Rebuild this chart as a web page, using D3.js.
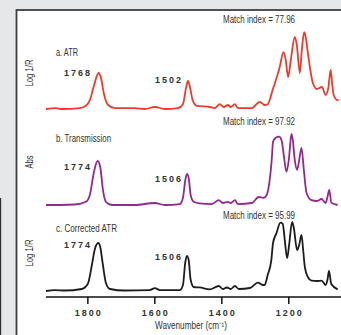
<!DOCTYPE html>
<html><head><meta charset="utf-8">
<script src="https://cdn.jsdelivr.net/npm/d3@7"></script>
<style>
html,body{margin:0;padding:0;background:#e6e7e8;}
svg{display:block;}
text{font-family:"Liberation Sans Narrow","Arial Narrow","Liberation Sans",sans-serif;fill:#333;}
</style></head>
<body><svg id="c" width="341" height="335"></svg>
<script>
// ---- data (wavenumber cm-1, relative intensity) ----
const wnA = [1925,1895,1878,1824,1806,1794,1782,1768,1761,1752,1740,1719,1660,1630,1600,1570,1531,1516,1507,1501,1496,1487,1475,1436,1421,1406,1394,1382,1373,1361,1352,1310,1287,1272,1263,1248,1227,1216,1209,1202,1194,1182,1176,1167,1161,1154,1149,1143,1128,1116,1101,1090,1082,1075,1070,1066,1054,1051];
const valA = [0,0.012,0,0.012,0.04,0.11,0.29,0.45,0.39,0.19,0.05,0.012,0.012,0,0.025,0,0.012,0.06,0.26,0.35,0.29,0.11,0.04,0.025,0.012,0.06,0.025,0.05,0.025,0.06,0.012,0.012,0.09,0.05,0.06,0.24,0.525,0.71,0.61,0.4,0.61,0.9,0.8,0.45,0.74,0.96,0.89,0.7,0.325,0.25,0.275,0.175,0.26,0.49,0.3,0.175,0.11,0.11];

const wnB = [1925,1884,1839,1806,1794,1782,1771,1763,1755,1746,1728,1660,1600,1570,1525,1516,1509,1504,1499,1493,1484,1466,1430,1409,1397,1382,1373,1361,1352,1310,1290,1275,1266,1257,1251,1247,1239,1229,1221,1215,1207,1200,1192,1188,1182,1175,1169,1162,1155,1147,1132,1116,1102,1090,1084,1079,1073,1054];
const valB = [0,0,0.006,0.04,0.125,0.41,0.55,0.475,0.19,0.04,0,0,0.025,0,0.012,0.09,0.31,0.39,0.34,0.125,0.04,0.02,0.012,0.06,0.025,0.04,0.025,0.06,0.012,0.025,0.1,0.09,0.125,0.31,0.56,0.79,0.84,0.855,0.8,0.625,0.415,0.56,0.89,0.81,0.56,0.44,0.56,0.715,0.44,0.15,0.06,0.05,0.075,0.025,0.11,0.19,0.03,0];

const wnC = [1925,1898,1869,1818,1800,1788,1779,1769,1763,1755,1746,1734,1690,1615,1600,1585,1525,1516,1509,1504,1499,1493,1484,1466,1436,1409,1397,1385,1373,1361,1349,1316,1292,1278,1272,1263,1252,1247,1237,1225,1218,1212,1205,1199,1190,1185,1175,1169,1162,1157,1152,1143,1132,1116,1102,1090,1084,1080,1073,1054];
const valC = [0,0.012,0.006,0.025,0.09,0.325,0.525,0.6,0.55,0.325,0.1,0.025,0.006,0.012,0.035,0.012,0.012,0.075,0.36,0.44,0.39,0.14,0.05,0.044,0.02,0.0625,0.025,0.044,0.025,0.0625,0.025,0.0375,0.104,0.075,0.075,0.2,0.39,0.6,0.72,0.855,0.84,0.64,0.41,0.575,0.865,0.79,0.51,0.575,0.7,0.51,0.3,0.175,0.13,0.125,0.13,0.075,0.15,0.25,0.0875,0.02];

const panelNames = ["a. ATR","b. Transmission","c. Corrected ATR"];
const yTitles = ["Log 1/R","Abs","Log 1/R"];
const matchIdx = ["77.96","97.92","95.99"];
const peakLabels = [["1768","1502"],["1774","1506"],["1774","1506"]];
const xTicks = [1800,1600,1400,1200];
const colors = ["#ee3a2a","#93278f","#1c1c1c"];

const svg = d3.select("#c");
// panel frame
svg.append("rect").attr("x",16.5).attr("y",10).attr("width",340).attr("height",340)
  .attr("fill","#fff").attr("stroke","#3f3f3f").attr("stroke-width",1.8);
svg.append("rect").attr("x",0).attr("y",198).attr("width",1.2).attr("height",137).attr("fill","#333");

const x = d3.scaleLinear().domain([1925,1050]).range([46,339]);
const baselines = [109,205,291];
const series = [[wnA,valA],[wnB,valB],[wnC,valC]];

series.forEach((s,i)=>{
  const y = d3.scaleLinear().domain([0,1]).range([baselines[i],baselines[i]-80]);
  const pts = s[0].map((w,k)=>[w,s[1][k]]);
  const line = d3.line().x(d=>x(d[0])).y(d=>y(d[1])).curve(d3.curveMonotoneX);
  svg.append("path").attr("d",line(pts)).attr("fill","none")
    .attr("stroke",colors[i]).attr("stroke-width",1.8).attr("stroke-linejoin","round");
});

// texts
const titleY = [52,138,228];
const titleLen = [22,55,61];
const matchY = [19,121,215];
const yTitleY = [73,162,253];
const yTitleLen = [27,13,27];
const peakPos = [[[78,73],[169,80]],[[78,167],[169,179]],[[78,245],[169,257]]];
for(let i=0;i<3;i++){
  svg.append("text").attr("x",56).attr("y",titleY[i]).attr("dy","0.35em")
    .attr("font-size",10).attr("textLength",titleLen[i]).attr("lengthAdjust","spacingAndGlyphs").text(panelNames[i]);
  svg.append("text").attr("x",223).attr("y",matchY[i]).attr("dy","0.35em")
    .attr("font-size",10).attr("textLength",72).attr("lengthAdjust","spacingAndGlyphs").text("Match index = "+matchIdx[i]);
  svg.append("text").attr("transform",`translate(29,${yTitleY[i]+yTitleLen[i]/2}) rotate(-90)`)
    .attr("dy","0.35em").attr("font-size",10)
    .attr("textLength",yTitleLen[i]).attr("lengthAdjust","spacingAndGlyphs").text(yTitles[i]);
  peakLabels[i].forEach((t,j)=>{
    svg.append("text").attr("x",peakPos[i][j][0]).attr("y",peakPos[i][j][1]).attr("dy","0.35em")
      .attr("text-anchor","middle").attr("font-size",9).attr("font-weight","bold")
      .attr("letter-spacing","2px").attr("fill","#222").text(t);
  });
}

// x axis
const ax = svg.append("g").attr("transform","translate(0,297)");
ax.append("line").attr("x1",46).attr("x2",341).attr("stroke","#111").attr("stroke-width",1.5);
const tk = ax.selectAll("g.t").data(xTicks).join("g").attr("transform",d=>`translate(${x(d)},0)`);
tk.append("line").attr("y1",0).attr("y2",7).attr("stroke","#111").attr("stroke-width",1.5);
tk.append("text").attr("y",16).attr("dy","0.35em").attr("text-anchor","middle")
  .attr("font-size",9).attr("font-weight","bold").attr("letter-spacing","2px").attr("dx","1")
  .attr("fill","#222").text(d=>d);
svg.append("text").attr("x",155).attr("y",325).attr("dy","0.35em")
  .attr("font-size",10).attr("textLength",72).attr("lengthAdjust","spacingAndGlyphs").text("Wavenumber (cm⁻¹)");
</script></body></html>
